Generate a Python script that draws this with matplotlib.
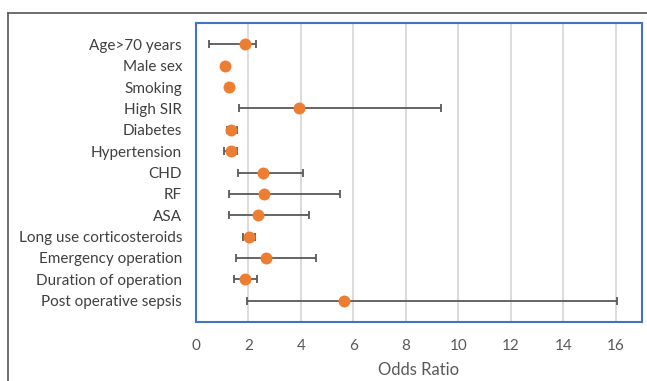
import matplotlib
matplotlib.use("Agg")
import matplotlib.pyplot as plt
from matplotlib.lines import Line2D

categories = ["Age>70 years", "Male sex", "Smoking", "High SIR", "Diabetes",
              "Hypertension", "CHD", "RF", "ASA", "Long use corticosteroids",
              "Emergency operation", "Duration of operation", "Post operative sepsis"]
odds_ratio = [1.87, 1.09, 1.24, 3.94, 1.34, 1.33, 2.55, 2.61, 2.36, 2.03, 2.66, 1.85, 5.64]
ci_low     = [0.50, 1.02, 1.16, 1.62, 1.17, 1.06, 1.59, 1.24, 1.26, 1.78, 1.53, 1.43, 1.96]
ci_high    = [2.28, 1.17, 1.33, 9.34, 1.55, 1.57, 4.06, 5.49, 4.31, 2.25, 4.57, 2.32, 16.03]
x_ticks = [0, 2, 4, 6, 8, 10, 12, 14, 16]

plt.rcParams['font.family'] = ['Lato', 'DejaVu Sans']

W, H = 647, 381
fig = plt.figure(figsize=(W/100, H/100), dpi=100)
ax = fig.add_axes([196/W, 1-322/H, (642-196)/W, (322-23)/H])

ypos = list(range(len(categories)))
xerr = [[o - l for o, l in zip(odds_ratio, ci_low)],
        [h - o for o, h in zip(odds_ratio, ci_high)]]
ax.errorbar(odds_ratio, ypos, xerr=xerr, fmt='none', ecolor='#595959',
            elinewidth=1.3, capsize=3, capthick=1.3, zorder=3)
ax.plot(odds_ratio, ypos, 'o', color='#ED7D31', markersize=8.6, zorder=4,
        markeredgewidth=0)

ax.set_xlim(0, 17)
ax.set_ylim(len(categories), -1)
ax.set_yticks(ypos)
ax.set_yticklabels(categories, fontsize=11, color='#404040')
ax.set_xticks(x_ticks)
ax.set_xticklabels([str(t) for t in x_ticks], fontsize=11, color='#595959')
ax.tick_params(axis='both', length=0)
ax.tick_params(axis='y', pad=10)
ax.tick_params(axis='x', pad=12)
for t in x_ticks:
    if t > 0:
        ax.axvline(t, color='#D9D9D9', linewidth=1.3, zorder=1)
ax.set_xlabel("Odds Ratio", fontsize=12, color='#595959', labelpad=7)
for s in ax.spines.values():
    s.set_color('#4472C4')
    s.set_linewidth(1.5)

# outer frame (cropped)
fig.add_artist(Line2D([8/W, 1], [1-12.5/H, 1-12.5/H], transform=fig.transFigure,
                      color='#555555', linewidth=1.2))
fig.add_artist(Line2D([8/W, 8/W], [0, 1-12.5/H], transform=fig.transFigure,
                      color='#555555', linewidth=1.2))

fig.savefig("out.png", dpi=100)
